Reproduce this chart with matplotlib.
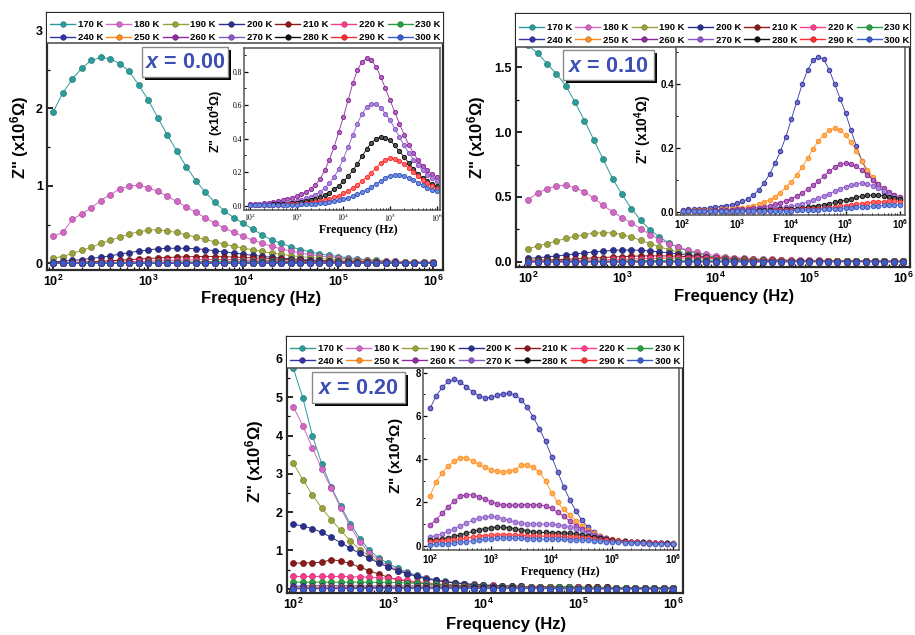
import numpy as np
import matplotlib
matplotlib.use('Agg')
import matplotlib.pyplot as plt
from matplotlib.patches import Rectangle
from matplotlib.lines import Line2D
from matplotlib.ticker import MultipleLocator, NullFormatter, LogLocator
from matplotlib.colors import to_rgb

plt.rcParams['font.family'] = ['Liberation Sans', 'DejaVu Sans']
plt.rcParams['mathtext.fontset'] = 'custom'
plt.rcParams['mathtext.rm'] = 'Liberation Sans'
plt.rcParams['mathtext.bf'] = 'Liberation Sans:bold'
plt.rcParams['mathtext.it'] = 'Liberation Sans:italic:bold'

# ---------------- data ----------------
log_f = np.linspace(2.0, 6.0, 41)          # measurement grid, log10(Hz)
freq = 10 ** log_f

temps = ['170 K', '180 K', '190 K', '200 K', '210 K', '220 K', '230 K',
         '240 K', '250 K', '260 K', '270 K', '280 K', '290 K', '300 K']
colors = ['#2a9d9a', '#d466c6', '#9aa23a', '#2b2f8f', '#8b1a1a', '#ff3c8c', '#28a040',
          '#3434a8', '#ff8c1a', '#8e2a9e', '#8a58c8', '#111111', '#ff2d2d', '#3a5cc8']

# x = 0.00, main panel (x10^6 Ohm)
a0_170 = [1.96, 2.20, 2.38, 2.52, 2.62, 2.66, 2.64, 2.58, 2.48, 2.30, 2.11,
          1.88, 1.66, 1.45, 1.25, 1.07, 0.92, 0.79, 0.68, 0.59, 0.52,
          0.44, 0.37, 0.30, 0.26, 0.215, 0.18, 0.15, 0.125, 0.105, 0.09,
          0.075, 0.062, 0.05, 0.041, 0.034, 0.028, 0.024, 0.02, 0.017, 0.015]
a0_180 = [0.35, 0.40, 0.57, 0.64, 0.72, 0.81, 0.89, 0.96, 1.00, 1.01, 0.98,
          0.93, 0.87, 0.80, 0.73, 0.66, 0.59, 0.52, 0.46, 0.40, 0.35,
          0.30, 0.26, 0.22, 0.19, 0.16, 0.135, 0.115, 0.098, 0.083, 0.07,
          0.06, 0.051, 0.044, 0.038, 0.033, 0.029, 0.025, 0.022, 0.019, 0.017]
a0_190 = [0.07, 0.09, 0.13, 0.17, 0.21, 0.26, 0.30, 0.34, 0.38, 0.41, 0.43,
          0.435, 0.42, 0.40, 0.37, 0.34, 0.31, 0.28, 0.25, 0.22, 0.20,
          0.175, 0.155, 0.135, 0.12, 0.10, 0.088, 0.077, 0.067, 0.058, 0.05,
          0.044, 0.038, 0.033, 0.029, 0.025, 0.022, 0.019, 0.017, 0.015, 0.013]
a0_200 = [0.02, 0.03, 0.04, 0.05, 0.065, 0.08, 0.10, 0.12, 0.14, 0.16, 0.175,
          0.19, 0.195, 0.197, 0.195, 0.19, 0.18, 0.165, 0.15, 0.135, 0.12,
          0.105, 0.092, 0.08, 0.07, 0.06, 0.052, 0.045, 0.04, 0.035, 0.03,
          0.027, 0.024, 0.021, 0.018, 0.016, 0.014, 0.012, 0.011, 0.01, 0.009]
a0_210 = [0.010, 0.012, 0.015, 0.019, 0.024, 0.029, 0.035, 0.042, 0.049, 0.057, 0.064,
          0.071, 0.077, 0.082, 0.086, 0.089, 0.090, 0.089, 0.087, 0.083, 0.078,
          0.072, 0.066, 0.059, 0.053, 0.047, 0.041, 0.036, 0.031, 0.027, 0.023,
          0.020, 0.017, 0.015, 0.013, 0.011, 0.010, 0.009, 0.008, 0.007, 0.006]
a0_220 = [0.005, 0.006, 0.007, 0.009, 0.011, 0.013, 0.016, 0.019, 0.023, 0.027, 0.031,
          0.035, 0.039, 0.043, 0.046, 0.049, 0.050, 0.051, 0.051, 0.050, 0.048,
          0.045, 0.042, 0.038, 0.034, 0.030, 0.026, 0.022, 0.019, 0.016, 0.014,
          0.012, 0.010, 0.009, 0.008, 0.007, 0.006, 0.005, 0.005, 0.004, 0.004]
a0_230 = [0.003, 0.003, 0.004, 0.004, 0.005, 0.006, 0.007, 0.008, 0.010, 0.011, 0.013,
          0.015, 0.017, 0.019, 0.021, 0.023, 0.025, 0.027, 0.028, 0.029, 0.030,
          0.030, 0.030, 0.029, 0.028, 0.026, 0.024, 0.022, 0.019, 0.017, 0.015,
          0.013, 0.011, 0.010, 0.008, 0.007, 0.006, 0.005, 0.005, 0.004, 0.004]
a0_240 = [0.002, 0.002, 0.002, 0.003, 0.003, 0.003, 0.004, 0.004, 0.005, 0.005, 0.006,
          0.007, 0.008, 0.009, 0.010, 0.011, 0.012, 0.013, 0.014, 0.015, 0.016,
          0.017, 0.017, 0.018, 0.018, 0.018, 0.017, 0.016, 0.015, 0.014, 0.012,
          0.011, 0.010, 0.008, 0.007, 0.006, 0.005, 0.005, 0.004, 0.004, 0.003]
a0_250 = [0.001, 0.001, 0.001, 0.002, 0.002, 0.002, 0.002, 0.003, 0.003, 0.003, 0.004,
          0.004, 0.005, 0.005, 0.006, 0.006, 0.007, 0.008, 0.008, 0.009, 0.010,
          0.010, 0.011, 0.011, 0.012, 0.012, 0.012, 0.012, 0.012, 0.011, 0.011,
          0.010, 0.009, 0.008, 0.007, 0.006, 0.005, 0.005, 0.004, 0.004, 0.003]
# x = 0.00, inset (x10^4 Ohm)
a0i_260 = [0.008, 0.010, 0.012, 0.015, 0.018, 0.022, 0.027, 0.033, 0.040, 0.048, 0.057,
           0.068, 0.082, 0.100, 0.125, 0.160, 0.210, 0.275, 0.350, 0.440, 0.530,
           0.630, 0.730, 0.810, 0.860, 0.880, 0.870, 0.830, 0.770, 0.700, 0.630,
           0.560, 0.490, 0.425, 0.365, 0.315, 0.272, 0.238, 0.210, 0.188, 0.170]
a0i_270 = [0.005, 0.006, 0.007, 0.008, 0.010, 0.012, 0.014, 0.017, 0.020, 0.024, 0.029,
           0.035, 0.043, 0.053, 0.066, 0.083, 0.105, 0.135, 0.170, 0.220, 0.280,
           0.350, 0.420, 0.490, 0.550, 0.590, 0.610, 0.605, 0.585, 0.550, 0.510,
           0.460, 0.410, 0.360, 0.315, 0.275, 0.240, 0.210, 0.185, 0.165, 0.150]
a0i_280 = [0.003, 0.003, 0.004, 0.005, 0.006, 0.007, 0.008, 0.010, 0.012, 0.014, 0.017,
           0.020, 0.025, 0.031, 0.039, 0.049, 0.062, 0.078, 0.098, 0.120, 0.145,
           0.175, 0.210, 0.250, 0.295, 0.340, 0.375, 0.400, 0.410, 0.405, 0.390,
           0.360, 0.325, 0.290, 0.255, 0.220, 0.190, 0.165, 0.145, 0.130, 0.115]
a0i_290 = [0.002, 0.002, 0.003, 0.003, 0.004, 0.004, 0.005, 0.006, 0.007, 0.008, 0.010,
           0.012, 0.014, 0.017, 0.021, 0.026, 0.032, 0.040, 0.049, 0.060, 0.073,
           0.088, 0.105, 0.125, 0.148, 0.172, 0.198, 0.225, 0.255, 0.275, 0.283,
           0.280, 0.268, 0.248, 0.225, 0.200, 0.176, 0.153, 0.133, 0.115, 0.100]
a0i_300 = [0.001, 0.001, 0.002, 0.002, 0.002, 0.003, 0.003, 0.004, 0.004, 0.005, 0.006,
           0.007, 0.008, 0.010, 0.012, 0.014, 0.017, 0.021, 0.026, 0.032, 0.039,
           0.047, 0.056, 0.067, 0.080, 0.095, 0.112, 0.130, 0.150, 0.167, 0.180,
           0.186, 0.185, 0.178, 0.166, 0.152, 0.137, 0.122, 0.108, 0.096, 0.085]

# x = 0.10, main panel (x10^6 Ohm)
a1_170 = [1.67, 1.61, 1.53, 1.45, 1.36, 1.23, 1.09, 0.94, 0.79, 0.64, 0.52,
          0.41, 0.32, 0.245, 0.19, 0.145, 0.11, 0.082, 0.062, 0.047, 0.036,
          0.028, 0.022, 0.018, 0.015, 0.013, 0.011, 0.010, 0.009, 0.008, 0.007,
          0.006, 0.006, 0.005, 0.005, 0.004, 0.004, 0.004, 0.003, 0.003, 0.003]
a1_180 = [0.48, 0.53, 0.565, 0.585, 0.59, 0.57, 0.54, 0.49, 0.435, 0.385, 0.34,
          0.30, 0.255, 0.21, 0.17, 0.14, 0.115, 0.09, 0.072, 0.058, 0.047,
          0.039, 0.032, 0.027, 0.023, 0.020, 0.017, 0.015, 0.013, 0.012, 0.011,
          0.010, 0.009, 0.008, 0.007, 0.007, 0.006, 0.006, 0.005, 0.005, 0.005]
a1_190 = [0.10, 0.12, 0.14, 0.16, 0.18, 0.195, 0.21, 0.22, 0.225, 0.222, 0.21,
          0.19, 0.165, 0.14, 0.115, 0.093, 0.075, 0.06, 0.048, 0.039, 0.032,
          0.026, 0.022, 0.018, 0.015, 0.013, 0.011, 0.010, 0.009, 0.008, 0.007,
          0.006, 0.006, 0.005, 0.005, 0.004, 0.004, 0.004, 0.003, 0.003, 0.003]
a1_200 = [0.025, 0.03, 0.037, 0.044, 0.052, 0.06, 0.068, 0.075, 0.082, 0.087, 0.09,
          0.09, 0.088, 0.083, 0.076, 0.068, 0.059, 0.05, 0.042, 0.035, 0.029,
          0.024, 0.02, 0.017, 0.014, 0.012, 0.01, 0.009, 0.008, 0.007, 0.006,
          0.006, 0.005, 0.005, 0.004, 0.004, 0.004, 0.003, 0.003, 0.003, 0.003]
a1_210 = [0.010, 0.012, 0.014, 0.016, 0.019, 0.022, 0.025, 0.029, 0.032, 0.036, 0.039,
          0.042, 0.044, 0.045, 0.045, 0.044, 0.042, 0.039, 0.036, 0.032, 0.028,
          0.024, 0.021, 0.018, 0.015, 0.013, 0.011, 0.009, 0.008, 0.007, 0.006,
          0.005, 0.005, 0.004, 0.004, 0.004, 0.003, 0.003, 0.003, 0.003, 0.003]
a1_220 = [0.005, 0.006, 0.007, 0.008, 0.009, 0.010, 0.012, 0.013, 0.015, 0.017, 0.019,
          0.021, 0.023, 0.025, 0.026, 0.027, 0.028, 0.028, 0.028, 0.027, 0.026,
          0.024, 0.022, 0.020, 0.018, 0.016, 0.014, 0.012, 0.010, 0.009, 0.008,
          0.007, 0.006, 0.005, 0.005, 0.004, 0.004, 0.003, 0.003, 0.003, 0.003]
a1_230 = [0.002, 0.002, 0.003, 0.003, 0.003, 0.004, 0.004, 0.005, 0.005, 0.006, 0.007,
          0.007, 0.008, 0.009, 0.010, 0.010, 0.011, 0.011, 0.012, 0.012, 0.012,
          0.012, 0.012, 0.011, 0.011, 0.010, 0.009, 0.008, 0.007, 0.006, 0.005,
          0.005, 0.004, 0.004, 0.003, 0.003, 0.003, 0.002, 0.002, 0.002, 0.002]
# x = 0.10, inset (x10^4 Ohm)
a1i_240 = [0.006, 0.007, 0.008, 0.009, 0.010, 0.012, 0.014, 0.016, 0.019, 0.022, 0.026,
           0.032, 0.040, 0.052, 0.068, 0.090, 0.118, 0.152, 0.190, 0.235, 0.290,
           0.345, 0.400, 0.445, 0.475, 0.487, 0.478, 0.445, 0.400, 0.355, 0.310,
           0.255, 0.205, 0.160, 0.125, 0.098, 0.078, 0.063, 0.052, 0.044, 0.037]
a1i_250 = [0.003, 0.003, 0.004, 0.004, 0.005, 0.005, 0.006, 0.007, 0.008, 0.009, 0.011,
           0.013, 0.016, 0.019, 0.024, 0.030, 0.037, 0.047, 0.060, 0.076, 0.094,
           0.115, 0.140, 0.168, 0.197, 0.222, 0.242, 0.256, 0.262, 0.256, 0.240,
           0.218, 0.190, 0.160, 0.132, 0.108, 0.088, 0.072, 0.060, 0.051, 0.045]
a1i_260 = [0.002, 0.002, 0.002, 0.003, 0.003, 0.003, 0.004, 0.004, 0.005, 0.006, 0.007,
           0.008, 0.009, 0.011, 0.013, 0.016, 0.019, 0.023, 0.028, 0.034, 0.041,
           0.049, 0.059, 0.070, 0.083, 0.097, 0.112, 0.127, 0.140, 0.149, 0.152,
           0.150, 0.142, 0.130, 0.115, 0.100, 0.086, 0.073, 0.062, 0.053, 0.046]
a1i_270 = [0.001, 0.001, 0.001, 0.002, 0.002, 0.002, 0.002, 0.003, 0.003, 0.003, 0.004,
           0.004, 0.005, 0.006, 0.007, 0.008, 0.010, 0.011, 0.013, 0.015, 0.018,
           0.021, 0.025, 0.030, 0.036, 0.042, 0.049, 0.057, 0.064, 0.072, 0.078,
           0.084, 0.088, 0.089, 0.087, 0.082, 0.075, 0.066, 0.057, 0.048, 0.041]
a1i_280 = [0.001, 0.001, 0.001, 0.001, 0.001, 0.001, 0.002, 0.002, 0.002, 0.002, 0.002,
           0.003, 0.003, 0.003, 0.004, 0.004, 0.005, 0.006, 0.007, 0.008, 0.009,
           0.010, 0.012, 0.014, 0.016, 0.019, 0.022, 0.025, 0.029, 0.033, 0.037,
           0.041, 0.045, 0.048, 0.051, 0.052, 0.052, 0.050, 0.047, 0.044, 0.040]
a1i_290 = [0.001, 0.001, 0.001, 0.001, 0.001, 0.001, 0.001, 0.001, 0.001, 0.002, 0.002,
           0.002, 0.002, 0.002, 0.003, 0.003, 0.003, 0.004, 0.004, 0.005, 0.005,
           0.006, 0.007, 0.008, 0.009, 0.010, 0.012, 0.013, 0.015, 0.017, 0.019,
           0.021, 0.023, 0.025, 0.027, 0.029, 0.030, 0.031, 0.032, 0.032, 0.031]
a1i_300 = [0.001, 0.001, 0.001, 0.001, 0.001, 0.001, 0.001, 0.001, 0.001, 0.001, 0.001,
           0.001, 0.001, 0.002, 0.002, 0.002, 0.002, 0.002, 0.003, 0.003, 0.003,
           0.004, 0.004, 0.005, 0.005, 0.006, 0.007, 0.008, 0.009, 0.010, 0.011,
           0.012, 0.014, 0.015, 0.016, 0.018, 0.019, 0.020, 0.021, 0.022, 0.022]

# x = 0.20, main panel (x10^6 Ohm)
a2_170 = [5.75, 4.98, 4.00, 3.25, 2.65, 2.15, 1.70, 1.31, 1.01, 0.80, 0.66,
          0.53, 0.43, 0.35, 0.285, 0.235, 0.195, 0.16, 0.135, 0.115, 0.10,
          0.088, 0.078, 0.07, 0.063, 0.057, 0.052, 0.048, 0.044, 0.041, 0.038,
          0.036, 0.034, 0.032, 0.031, 0.03, 0.029, 0.028, 0.027, 0.026, 0.025]
a2_180 = [4.75, 4.25, 3.68, 3.12, 2.62, 2.10, 1.62, 1.22, 0.94, 0.74, 0.60,
          0.49, 0.40, 0.33, 0.27, 0.225, 0.185, 0.155, 0.13, 0.112, 0.097,
          0.085, 0.075, 0.067, 0.06, 0.055, 0.05, 0.046, 0.043, 0.04, 0.038,
          0.036, 0.034, 0.032, 0.031, 0.03, 0.029, 0.028, 0.027, 0.026, 0.025]
a2_190 = [3.28, 2.85, 2.45, 2.10, 1.80, 1.52, 1.25, 1.02, 0.84, 0.69, 0.56,
          0.46, 0.38, 0.31, 0.255, 0.21, 0.175, 0.145, 0.122, 0.105, 0.092,
          0.082, 0.073, 0.065, 0.059, 0.054, 0.05, 0.046, 0.043, 0.04, 0.038,
          0.036, 0.034, 0.032, 0.031, 0.03, 0.029, 0.028, 0.027, 0.026, 0.025]
a2_200 = [1.68, 1.64, 1.57, 1.47, 1.34, 1.20, 1.06, 0.92, 0.79, 0.67, 0.56,
          0.47, 0.39, 0.32, 0.265, 0.22, 0.18, 0.15, 0.127, 0.108, 0.094,
          0.083, 0.074, 0.066, 0.06, 0.055, 0.05, 0.046, 0.043, 0.04, 0.038,
          0.036, 0.034, 0.032, 0.031, 0.03, 0.029, 0.028, 0.027, 0.026, 0.025]
a2_210 = [0.67, 0.67, 0.68, 0.69, 0.76, 0.72, 0.66, 0.56, 0.47, 0.38, 0.30,
          0.24, 0.19, 0.155, 0.13, 0.11, 0.095, 0.085, 0.077, 0.07, 0.065,
          0.06, 0.056, 0.052, 0.049, 0.046, 0.043, 0.041, 0.039, 0.037, 0.035,
          0.034, 0.033, 0.032, 0.031, 0.03, 0.029, 0.028, 0.027, 0.026, 0.025]
a2_220 = [0.32, 0.32, 0.32, 0.32, 0.32, 0.32, 0.31, 0.31, 0.30, 0.29, 0.27,
          0.245, 0.215, 0.185, 0.155, 0.13, 0.11, 0.095, 0.082, 0.072, 0.064,
          0.058, 0.053, 0.049, 0.045, 0.042, 0.04, 0.038, 0.036, 0.034, 0.033,
          0.031, 0.030, 0.029, 0.028, 0.027, 0.026, 0.025, 0.025, 0.024, 0.024]
a2_230 = [0.17, 0.17, 0.17, 0.17, 0.17, 0.17, 0.17, 0.17, 0.168, 0.166, 0.163,
          0.158, 0.150, 0.140, 0.128, 0.115, 0.10, 0.088, 0.077, 0.068, 0.061,
          0.055, 0.050, 0.046, 0.043, 0.040, 0.038, 0.036, 0.034, 0.033, 0.031,
          0.030, 0.029, 0.028, 0.027, 0.026, 0.025, 0.025, 0.024, 0.024, 0.023]
# x = 0.20, inset (x10^4 Ohm)
a2i_240 = [6.35, 6.92, 7.32, 7.60, 7.69, 7.56, 7.35, 7.12, 6.93, 6.85, 6.86,
           6.95, 7.03, 7.06, 6.98, 6.76, 6.40, 5.95, 5.40, 4.82, 4.12,
           3.42, 2.72, 2.12, 1.60, 1.17, 0.85, 0.62, 0.46, 0.35, 0.28,
           0.23, 0.20, 0.18, 0.17, 0.16, 0.15, 0.14, 0.13, 0.125, 0.12]
a2i_250 = [2.30, 2.95, 3.38, 3.68, 3.94, 4.06, 4.07, 3.93, 3.76, 3.62, 3.52,
           3.46, 3.43, 3.45, 3.50, 3.74, 3.72, 3.62, 3.40, 3.00, 2.45,
           2.00, 1.68, 1.42, 1.15, 0.90, 0.72, 0.58, 0.46, 0.36, 0.29,
           0.24, 0.20, 0.18, 0.16, 0.15, 0.14, 0.13, 0.12, 0.115, 0.11]
a2i_260 = [0.95, 1.20, 1.50, 1.80, 2.07, 2.28, 2.36, 2.35, 2.27, 2.15, 2.03,
           1.95, 1.90, 1.88, 1.88, 1.89, 1.90, 1.90, 1.89, 1.84, 1.72,
           1.55, 1.35, 1.14, 0.93, 0.76, 0.62, 0.50, 0.40, 0.33, 0.27,
           0.22, 0.19, 0.17, 0.155, 0.145, 0.135, 0.125, 0.115, 0.11, 0.10]
a2i_270 = [0.40, 0.47, 0.56, 0.67, 0.79, 0.92, 1.05, 1.17, 1.27, 1.33, 1.35,
           1.32, 1.25, 1.17, 1.10, 1.05, 1.02, 1.01, 1.00, 1.00, 0.99,
           0.97, 0.93, 0.87, 0.79, 0.69, 0.59, 0.50, 0.41, 0.34, 0.28,
           0.23, 0.20, 0.18, 0.16, 0.15, 0.14, 0.13, 0.12, 0.11, 0.10]
a2i_280 = [0.25, 0.28, 0.32, 0.37, 0.43, 0.50, 0.58, 0.66, 0.73, 0.79, 0.83,
           0.85, 0.85, 0.83, 0.79, 0.74, 0.69, 0.65, 0.62, 0.61, 0.60,
           0.60, 0.59, 0.57, 0.54, 0.50, 0.45, 0.40, 0.35, 0.30, 0.26,
           0.23, 0.20, 0.18, 0.16, 0.15, 0.14, 0.13, 0.12, 0.11, 0.10]
a2i_290 = [0.18, 0.20, 0.22, 0.25, 0.28, 0.32, 0.36, 0.40, 0.44, 0.47, 0.49,
           0.50, 0.51, 0.51, 0.50, 0.48, 0.46, 0.45, 0.44, 0.44, 0.44,
           0.43, 0.42, 0.41, 0.39, 0.37, 0.34, 0.31, 0.28, 0.25, 0.22,
           0.20, 0.18, 0.16, 0.15, 0.14, 0.13, 0.12, 0.11, 0.10, 0.10]
a2i_300 = [0.05, 0.06, 0.08, 0.10, 0.13, 0.16, 0.19, 0.23, 0.27, 0.30, 0.32,
           0.34, 0.35, 0.35, 0.35, 0.34, 0.33, 0.32, 0.31, 0.30, 0.30,
           0.29, 0.29, 0.28, 0.27, 0.26, 0.24, 0.22, 0.20, 0.18, 0.16,
           0.15, 0.14, 0.13, 0.12, 0.11, 0.10, 0.10, 0.09, 0.09, 0.08]

# ---------------- figure ----------------
W, H = 915, 635
fig = plt.figure(figsize=(W / 100, H / 100), dpi=100)


def frect(l, t, r, b):
    return [l / W, 1 - b / H, (r - l) / W, (b - t) / H]


def fp(x, y):
    return (x / W, 1 - y / H)


def shade(c, f):
    r, g, b = to_rgb(c)
    return (r * f, g * f, b * f)


def tint(c, f):
    r, g, b = to_rgb(c)
    return (r + (1 - r) * f, g + (1 - g) * f, b + (1 - b) * f)


xt_vals = [1e2, 1e3, 1e4, 1e5, 1e6]
xt_bold = [r'$\mathbf{10^{%d}}$' % e for e in range(2, 7)]
xt_plain = [r'$10^{%d}$' % e for e in range(2, 7)]


def setup(ax, xl, yl, yticks, ylabs, yminor, lsize, serif=False, main=True):
    ax.set_xscale('log')
    ax.set_xlim(10 ** xl[0], 10 ** xl[1])
    ax.set_ylim(*yl)
    if serif:
        ax.set_xticks(xt_vals, xt_plain, fontfamily='Liberation Serif', math_fontfamily='stix')
        ax.set_yticks(yticks, ylabs, fontfamily='Liberation Serif')
    else:
        ax.set_xticks(xt_vals, xt_bold, fontweight='bold')
        ax.set_yticks(yticks, ylabs, fontweight='bold')
    ax.xaxis.set_minor_locator(LogLocator(base=10, subs=np.arange(2, 10) * 1.0, numticks=30))
    ax.xaxis.set_minor_formatter(NullFormatter())
    ax.yaxis.set_minor_locator(MultipleLocator(yminor))
    ax.tick_params(which='both', direction='in', top=False, right=False)
    if main:
        ax.tick_params(which='major', length=4, width=1.2, labelsize=lsize, pad=3)
        ax.tick_params(which='minor', length=2.2, width=0.9)
        for s in ax.spines.values():
            s.set_linewidth(1.6)
            s.set_color('#2a2a2a')
    else:
        ax.tick_params(which='major', length=3, width=0.9, labelsize=lsize, pad=1.5)
        ax.tick_params(which='minor', length=1.6, width=0.7)
        for s in ax.spines.values():
            s.set_linewidth(1.1)
            s.set_color('#555555')


def plot_series(ax, idx, y, ms, inset=False):
    c = colors[idx]
    if inset:
        ax.plot(freq, y, '-o', color=c, lw=0.6, ms=ms, mfc=tint(c, 0.3), mec=c, mew=0.7, zorder=2 + idx * 0.01)
    else:
        ax.plot(freq, y, '-o', color=c, lw=0.7, ms=ms, mfc=c, mec=shade(c, 0.7), mew=0.4, zorder=2 + idx * 0.01)


def add_legend(ax, sep, anchor_y):
    ax.add_patch(Rectangle((0, sep), 1, 1 - sep, transform=ax.transAxes,
                           facecolor='white', edgecolor='none', zorder=5))
    ax.add_line(Line2D([0, 1], [sep, sep], transform=ax.transAxes, color='#555555', lw=1.2, zorder=6))
    handles = [Line2D([], [], color=c, lw=1.0, marker='o', ms=4, mfc=c, mec=shade(c, 0.7), mew=0.4)
               for c in colors]
    order = []
    for i in range(7):
        order += [i, i + 7]
    leg = ax.legend([handles[i] for i in order], [temps[i] for i in order], ncol=7,
                    loc='upper left', bbox_to_anchor=(0.008, anchor_y), frameon=False,
                    prop={'family': 'Liberation Sans', 'weight': 'bold', 'size': 6.8},
                    handlelength=2.65, handletextpad=0.28, columnspacing=0.33,
                    labelspacing=0.4, borderpad=0, borderaxespad=0, numpoints=1)
    leg.set_zorder(7)


def xbox(l, t, r, b, txt):
    fig.patches.append(Rectangle(fp(l + 3, b + 3), (r - l) / W, (b - t) / H, transform=fig.transFigure,
                                 facecolor='black', edgecolor='none', zorder=20))
    fig.patches.append(Rectangle(fp(l, b), (r - l) / W, (b - t) / H, transform=fig.transFigure,
                                 facecolor='white', edgecolor='#8a8a8a', lw=1.0, zorder=21))
    x, y = fp((l + r) / 2, (t + b) / 2 + 1)
    fig.text(x, y, txt, ha='center', va='center', fontsize=15.5, fontweight='bold',
             color='#3d4fb5', zorder=22)


yl_main = r'Z" (x10$^{\mathbf{6}}$Ω)'
yl_ins = r'Z" (x10$^{\mathbf{4}}$Ω)'

# ---------- panel x = 0.00 ----------
ax1 = fig.add_axes(frect(47, 13, 443, 270))
setup(ax1, (1.934, 6.102), (-0.084, 3.232), [0, 1, 2, 3], ['0', '1', '2', '3'], 0.5, 9)
main0 = [a0_170, a0_180, a0_190, a0_200, a0_210, a0_220, a0_230, a0_240, a0_250,
         np.array(a0i_260) / 100, np.array(a0i_270) / 100, np.array(a0i_280) / 100,
         np.array(a0i_290) / 100, np.array(a0i_300) / 100]
for i, y in enumerate(main0):
    plot_series(ax1, i, y, 4.4)
add_legend(ax1, 0.884, 0.972)

ins1 = fig.add_axes(frect(244, 48.3, 440, 210))
setup(ins1, (1.87, 6.07), (-0.026, 0.94), [0, 0.2, 0.4, 0.6, 0.8],
      ['0.0', '0.2', '0.4', '0.6', '0.8'], 0.1, 5.5, serif=True, main=False)
for i, y in zip(range(9, 14), [a0i_260, a0i_270, a0i_280, a0i_290, a0i_300]):
    plot_series(ins1, i, y, 3.0, inset=True)

# ---------- panel x = 0.10 ----------
ax2 = fig.add_axes(frect(516, 14, 910, 267))
setup(ax2, (1.869, 6.074), (-0.041, 1.913), [0, 0.5, 1.0, 1.5], ['0.0', '0.5', '1.0', '1.5'], 0.25, 9)
main1 = [a1_170, a1_180, a1_190, a1_200, a1_210, a1_220, a1_230,
         np.array(a1i_240) / 100, np.array(a1i_250) / 100, np.array(a1i_260) / 100,
         np.array(a1i_270) / 100, np.array(a1i_280) / 100, np.array(a1i_290) / 100,
         np.array(a1i_300) / 100]
for i, y in enumerate(main1):
    plot_series(ax2, i, y, 4.4)
add_legend(ax2, 0.871, 0.965)

ins2 = fig.add_axes(frect(676, 46.7, 905, 215))
setup(ins2, (1.877, 6.094), (-0.0104, 0.518), [0, 0.2, 0.4], ['0.0', '0.2', '0.4'], 0.1, 7, main=False)
for i, y in zip(range(7, 14), [a1i_240, a1i_250, a1i_260, a1i_270, a1i_280, a1i_290, a1i_300]):
    plot_series(ins2, i, y, 3.2, inset=True)

# ---------- panel x = 0.20 ----------
ax3 = fig.add_axes(frect(286.7, 336.7, 682.7, 593))
setup(ax3, (1.930, 6.099), (-0.112, 6.58), [0, 1, 2, 3, 4, 5, 6],
      ['0', '1', '2', '3', '4', '5', '6'], 0.5, 9)
main2 = [a2_170, a2_180, a2_190, a2_200, a2_210, a2_220, a2_230,
         np.array(a2i_240) / 100, np.array(a2i_250) / 100, np.array(a2i_260) / 100,
         np.array(a2i_270) / 100, np.array(a2i_280) / 100, np.array(a2i_290) / 100,
         np.array(a2i_300) / 100]
for i, y in enumerate(main2):
    plot_series(ax3, i, y, 4.4)
add_legend(ax3, 0.876, 0.972)

ins3 = fig.add_axes(frect(423, 368, 679, 550))
setup(ins3, (1.885, 6.095), (-0.2, 8.22), [0, 2, 4, 6, 8], ['0', '2', '4', '6', '8'], 1, 7, main=False)
for i, y in zip(range(7, 14), [a2i_240, a2i_250, a2i_260, a2i_270, a2i_280, a2i_290, a2i_300]):
    plot_series(ins3, i, y, 3.4, inset=True)

# ---------- labels ----------
for (x, y) in [(261, 298), (734, 297), (506, 625)]:
    fig.text(*fp(x, y), 'Frequency (Hz)', ha='center', va='center', fontsize=12, fontweight='bold')
for (x, y) in [(20, 137), (477, 137), (255, 461)]:
    fig.text(*fp(x, y), yl_main, ha='center', va='center', fontsize=12, fontweight='bold', rotation=90)
for (x, y, s) in [(216, 121, 9), (643, 129, 10), (396, 456, 11)]:
    fig.text(*fp(x, y), yl_ins, ha='center', va='center', fontsize=s, fontweight='bold', rotation=90)
for (x, y) in [(358, 230), (812, 239), (560, 572)]:
    fig.text(*fp(x, y), 'Frequency (Hz)', ha='center', va='center', fontsize=8.5,
             fontweight='bold', family='Liberation Serif')

xbox(141.7, 46.7, 228.3, 76.7, r'$x$ = 0.00')
xbox(562.7, 50, 654, 80, r'$x$ = 0.10')
xbox(311.7, 371.7, 405, 403.3, r'$x$ = 0.20')

fig.savefig('out.png', dpi=100)
